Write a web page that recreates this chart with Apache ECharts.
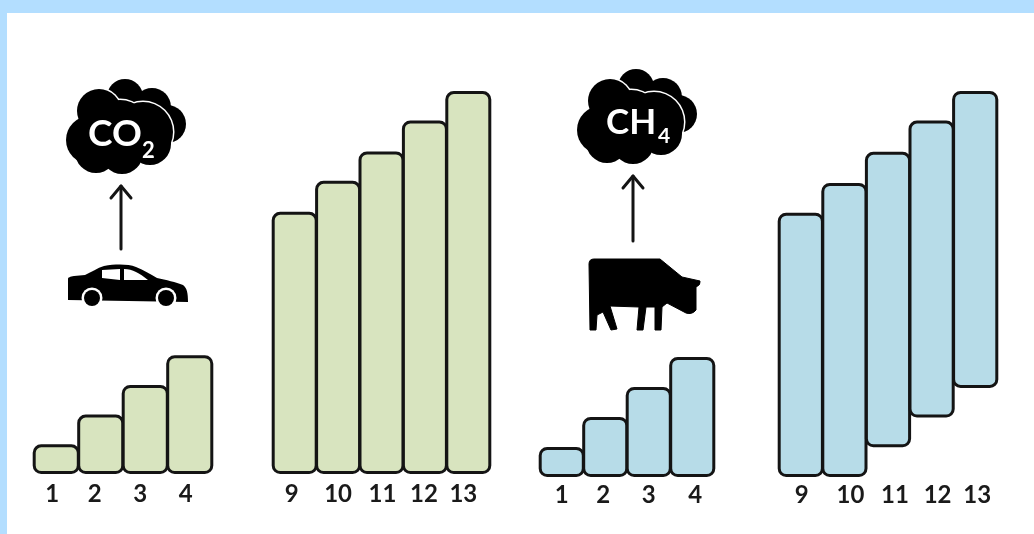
<!DOCTYPE html>
<html>
<head>
<meta charset="utf-8">
<style>
  html, body { margin: 0; padding: 0; background: #fff; }
  #chart { width: 1034px; height: 534px; }
</style>
<script src="https://cdn.jsdelivr.net/npm/echarts@6/dist/echarts.min.js"></script>
</head>
<body>
<div id="chart"></div>
<script>
const earlyCategories = ['1', '2', '3', '4'];
const lateCategories = ['9', '10', '11', '12', '13'];

const co2Early = [1, 2, 3, 4];
const co2Late = [8.9, 9.95, 10.95, 12, 13];
const ch4Early = [1, 2, 3, 4];
const ch4Late = [8.9, 9.9, 10.95, 12, 13];
// CH4 stays up for about 10 years, so the older bars start above zero
const ch4LateBase = [0, 0, 1, 2, 3];

const GREEN = '#d8e4bf';
const BLUE = '#b7dce8';
const INK = '#141414';

// per-label nudges, the labels are not quite centred under the bars
const labelRich = (offsets) => {
  const rich = {};
  offsets.forEach((d, i) => {
    rich['s' + i] = {
      fontFamily: 'Lato', fontWeight: 'bold', fontSize: 24, color: '#1a1a1a',
      padding: d < 0 ? [0, -2 * d, 0, 0] : [0, 0, 0, 2 * d]
    };
  });
  return rich;
};

const panels = [
  { left: 34, width: 178, bottom: 474, unit: 29.7, max: 4, margin: 8, cats: earlyCategories, vals: co2Early, color: GREEN, offsets: [-4, -6, -5, -4] },
  { left: 273, width: 217, bottom: 474, unit: 29.46, max: 13, margin: 8, cats: lateCategories, vals: co2Late, color: GREEN, offsets: [-3, 0, 1, -1, -5] },
  { left: 540, width: 174, bottom: 477, unit: 30, max: 4, margin: 6, cats: earlyCategories, vals: ch4Early, color: BLUE, offsets: [0, -2, 0, 3] },
  { left: 779, width: 218, bottom: 477, unit: 29.7, max: 13, margin: 6, cats: lateCategories, vals: ch4Late, base: ch4LateBase, color: BLUE, offsets: [1, 6, 7, 6, 2] }
];

const grid = panels.map((p) => ({
  left: p.left,
  width: p.width,
  top: p.bottom - p.unit * p.max,
  height: p.unit * p.max
}));

const xAxis = panels.map((p, i) => ({
  type: 'category',
  gridIndex: i,
  data: p.cats,
  axisLine: { show: false },
  axisTick: { show: false },
  axisLabel: {
    margin: p.margin,
    interval: 0,
    formatter: (v, idx) => `{s${idx}|${v}}`,
    rich: labelRich(p.offsets)
  }
}));

const yAxis = panels.map((p, i) => ({
  type: 'value',
  gridIndex: i,
  min: 0,
  max: p.max,
  show: false
}));

const series = [];
panels.forEach((p, i) => {
  // bars are inset by their border, widen them so the neighbours touch
  const barWidth = p.width / p.cats.length + 2.6;
  if (p.base) {
    series.push({
      type: 'bar', xAxisIndex: i, yAxisIndex: i, stack: 'p' + i, silent: true,
      barWidth, clip: false,
      itemStyle: { color: 'transparent', borderWidth: 0 },
      data: p.base
    });
  }
  const base = p.base || p.vals.map(() => 0);
  series.push({
    type: 'bar', xAxisIndex: i, yAxisIndex: i, stack: 'p' + i,
    barWidth, clip: false,
    itemStyle: { color: p.color, borderColor: INK, borderWidth: 3, borderRadius: 7 },
    data: p.vals.map((v, k) => v - base[k])
  });
});

// icons below are drawn by hand, they are decoration and not data
const frontLobes = [[90, 140, 24], [99, 111, 22], [96, 152, 21], [122, 153, 21], [143, 132, 30], [150, 144, 21], [120, 130, 30]];
const backLobes = [[125, 97, 18], [152, 107, 19], [167, 124, 19], [150, 125, 25], [128, 112, 20]];

const circles = (lobes, dx, dy, grow, fill) => lobes.map((l) => ({
  type: 'circle',
  shape: { cx: l[0] + dx, cy: l[1] + dy, r: l[2] + grow },
  style: { fill: fill }
}));

const cloud = (dx, dy) => [
  ...circles(backLobes, dx, dy, 0, '#000'),
  ...circles(frontLobes, dx, dy, 1.5, '#fff'),
  ...circles(frontLobes, dx, dy, 0, '#000')
];

const arrow = (x, yFrom, yTo) => [
  { type: 'line', shape: { x1: x, y1: yFrom, x2: x, y2: yTo }, style: { stroke: INK, lineWidth: 3, lineCap: 'round' } },
  { type: 'polyline', shape: { points: [[x - 10, yTo + 12], [x, yTo], [x + 10, yTo + 12]] }, style: { fill: 'none', stroke: INK, lineWidth: 3, lineCap: 'round', lineJoin: 'round' } }
];

const label = (text, x, y, size, weight) => ({
  type: 'text', x: x, y: y,
  style: { text: text, fill: '#fff', fontFamily: 'Lato', fontSize: size, fontWeight: weight, align: 'left', verticalAlign: 'middle' }
});

echarts.graphic.registerShape('carBody', echarts.graphic.extendPath('M68 279 C68 277 70 277 74 276 L85 275 C92 272 97 268 104 266 C116 264 128 264 136 267 C144 270 150 274 157 278 C166 280 176 282 183 285 C187 288 188 293 188 302 L68 300 Z', {}));
echarts.graphic.registerShape('carWindows', echarts.graphic.extendPath('M102 270 L120 269 L120 280 L102 278 Z M124 269 C133 269 139 273 148 280 L124 280 Z', {}));
echarts.graphic.registerShape('cowBody', echarts.graphic.extendPath('M589 264 Q589 259 594 259 L660 259 L682 277 L700 281 Q701 285 696 287 L696 310 Q692 315 686 313 L667 303 L662 307 L661 330 L655 330 L655 307 L646 307 L643 330 L637 330 L639 307 L610 306 L617 329 L611 330 L603 312 L597 315 L596 330 L590 330 Z', {}));

const graphic = [
  { type: 'rect', z: -10, shape: { x: 0, y: 0, width: 1034, height: 13 }, style: { fill: '#b3deff' } },
  { type: 'rect', z: -10, shape: { x: 0, y: 0, width: 7, height: 534 }, style: { fill: '#b3deff' } },
  ...cloud(0, 0),
  ...cloud(511, -10),
  label('CO', 88, 134, 37, 'bold'),
  label('2', 142, 151, 22, 'bold'),
  label('CH', 606, 123, 35, 'bold'),
  label('4', 658, 136, 21, 'bold'),
  ...arrow(121, 249, 186),
  ...arrow(633, 241, 176),
  { type: 'carBody', style: { fill: '#000' } },
  { type: 'carWindows', style: { fill: '#fff' } },
  { type: 'circle', shape: { cx: 92, cy: 298, r: 10.5 }, style: { fill: '#fff' } },
  { type: 'circle', shape: { cx: 166, cy: 298, r: 10.5 }, style: { fill: '#fff' } },
  { type: 'circle', shape: { cx: 92, cy: 298, r: 8 }, style: { fill: '#000' } },
  { type: 'circle', shape: { cx: 166, cy: 298, r: 8 }, style: { fill: '#000' } },
  { type: 'cowBody', style: { fill: '#000', stroke: '#000', lineWidth: 1, lineJoin: 'round' } }
];

const chart = echarts.init(document.getElementById('chart'), null, { renderer: 'canvas' });
chart.setOption({
  animation: false,
  backgroundColor: '#fff',
  grid,
  xAxis,
  yAxis,
  series,
  graphic
});
</script>
</body>
</html>
